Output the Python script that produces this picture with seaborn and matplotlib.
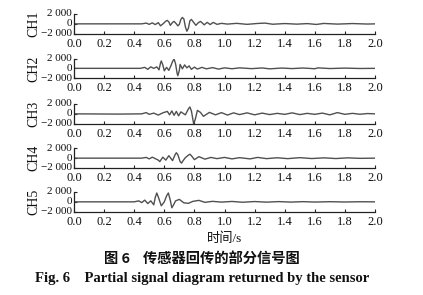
import matplotlib
matplotlib.use("Agg")
import matplotlib.pyplot as plt
import seaborn as sns
import pandas as pd

# ---- data ----
channels = ["CH1", "CH2", "CH3", "CH4", "CH5"]

t1 = [0.00, 0.30, 0.45, 0.48, 0.50, 0.52, 0.54, 0.56, 0.575, 0.595, 0.61, 0.62, 0.63, 0.64, 0.655, 0.665, 0.68, 0.69, 0.70, 0.71, 0.72, 0.73, 0.74, 0.75, 0.76, 0.77, 0.78, 0.79, 0.81, 0.825, 0.84, 0.855, 0.865, 0.885, 0.905, 0.925, 0.95, 0.98, 1.02, 1.08, 1.15, 1.22, 1.27, 1.32, 1.40, 1.48, 1.55, 1.61, 1.66, 1.75, 1.85, 1.95, 2.00]
v1 = [0, 0, 0, 150, -100, 200, -150, 250, -400, 100, 550, 700, 400, -300, 300, 500, 0, -400, -100, 900, 1300, 1000, -600, -1500, -900, 600, 900, 500, -300, 200, 500, 100, -200, 300, -150, 300, -100, 100, -50, 100, -100, 80, 150, -80, 60, -60, 50, -120, 80, -50, 60, -40, 0]

t2 = [0.00, 0.30, 0.44, 0.47, 0.49, 0.51, 0.53, 0.55, 0.565, 0.575, 0.58, 0.59, 0.60, 0.615, 0.63, 0.645, 0.655, 0.665, 0.675, 0.685, 0.69, 0.70, 0.705, 0.72, 0.735, 0.75, 0.765, 0.78, 0.80, 0.82, 0.85, 0.88, 0.92, 0.96, 1.00, 1.05, 1.10, 1.18, 1.25, 1.30, 1.38, 1.45, 1.52, 1.60, 1.62, 1.70, 1.80, 1.90, 2.00]
v2 = [0, 0, 0, 200, -200, 300, 0, 300, -300, 1100, 1500, 700, -500, 200, -400, 600, 1400, 1900, 900, -1000, -1500, -400, 800, -100, 700, 100, 500, -200, 250, -150, 200, -100, 150, -150, 100, -80, 100, -60, 80, -100, 60, -50, 70, -80, 100, -40, 50, -30, 0]

t3 = [0.00, 0.30, 0.45, 0.48, 0.50, 0.53, 0.56, 0.59, 0.62, 0.635, 0.65, 0.665, 0.68, 0.695, 0.71, 0.74, 0.76, 0.77, 0.78, 0.795, 0.805, 0.82, 0.84, 0.86, 0.90, 0.94, 0.98, 1.02, 1.06, 1.10, 1.15, 1.20, 1.25, 1.30, 1.35, 1.40, 1.45, 1.50, 1.55, 1.60, 1.65, 1.70, 1.75, 1.80, 1.85, 1.90, 1.95, 2.00]
v3 = [0, -50, 0, 250, -100, 150, -250, 200, 500, -200, 600, -300, 500, -400, 400, -200, 1000, 1400, 600, -2000, -1200, 700, 300, -500, 300, -200, 250, -250, 200, -150, 200, -200, 150, -150, 100, -100, 200, -150, 100, -100, 150, -200, 250, -100, 100, -80, 60, 0]

t4 = [0.00, 0.30, 0.45, 0.48, 0.50, 0.52, 0.54, 0.56, 0.57, 0.59, 0.61, 0.63, 0.655, 0.67, 0.68, 0.69, 0.705, 0.715, 0.725, 0.74, 0.76, 0.77, 0.78, 0.80, 0.83, 0.87, 0.91, 0.95, 1.00, 1.05, 1.10, 1.17, 1.22, 1.28, 1.35, 1.42, 1.50, 1.58, 1.66, 1.74, 1.82, 1.90, 2.00]
v4 = [0, 0, 0, 150, -150, 200, -100, -400, -700, 200, -400, 500, -500, 600, 1100, 700, -700, -1000, -500, 100, 600, 800, 500, -300, 300, -200, 150, -100, 150, -150, 100, -150, 150, -100, 80, -100, 100, -80, 60, -80, 60, -40, 0]

t5 = [0.00, 0.30, 0.40, 0.43, 0.45, 0.47, 0.49, 0.51, 0.53, 0.54, 0.55, 0.56, 0.58, 0.60, 0.615, 0.627, 0.64, 0.65, 0.66, 0.675, 0.70, 0.73, 0.76, 0.79, 0.83, 0.87, 0.92, 0.98, 1.05, 1.12, 1.20, 1.28, 1.36, 1.44, 1.52, 1.60, 1.70, 1.80, 1.90, 2.00]
v5 = [0, 0, 0, 200, -150, 350, -350, 200, -600, 900, 1800, 1000, -800, 0, 1200, 1800, 300, -1200, -700, 200, 500, -200, -300, 100, 300, -100, 100, -50, 80, -80, 60, -60, 50, -50, 40, -40, 30, -30, 20, 0]

x_ticks = [0.0, 0.2, 0.4, 0.6, 0.8, 1.0, 1.2, 1.4, 1.6, 1.8, 2.0]
x_tick_labels = ["0.0", "0.2", "0.4", "0.6", "0.8", "1.0", "1.2", "1.4", "1.6", "1.8", "2.0"]
y_ticks = [-2000, 0, 2000]
y_tick_labels = ["\u22122 000", "0", "2 000"]

xlabel = "时间/s"
caption_cn = "图 6    传感器回传的部分信号图"
caption_en = "Fig. 6    Partial signal diagram returned by the sensor"

series = [(t1, v1), (t2, v2), (t3, v3), (t4, v4), (t5, v5)]

# ---- style ----
sns.set_style("ticks")
plt.rcParams["font.family"] = ["Liberation Serif", "Noto Sans CJK SC", "DejaVu Sans"]
plt.rcParams["axes.unicode_minus"] = True

W, H = 423, 295
fig = plt.figure(figsize=(W / 100, H / 100), dpi=100)

left_px, right_px = 74, 375
tops_px = [14, 58.5, 104, 148.3, 192]
h_px = 19.7

line_color = "#505050"
tick_fs = 8.5

for i, (name, (tt, vv)) in enumerate(zip(channels, series)):
    top = tops_px[i]
    ax = fig.add_axes([left_px / W, 1 - (top + h_px) / H, (right_px - left_px) / W, h_px / H])
    df = pd.DataFrame({"t": tt, "v": vv})
    sns.lineplot(data=df, x="t", y="v", ax=ax, color=line_color, linewidth=1.0, sort=True,
                 estimator=None)
    ax.set_xlim(0, 2.0)
    ax.set_ylim(-2000, 2000)
    ax.set_xticks(x_ticks)
    ax.set_xticklabels(x_tick_labels, fontsize=tick_fs + 0.5)
    ax.set_yticks(y_ticks)
    ax.set_yticklabels(y_tick_labels, fontsize=8)
    ax.tick_params(axis="both", direction="in", length=2.5, width=0.8, color="#222222",
                   labelcolor="#111111")
    ax.tick_params(axis="y", pad=1.5)
    ax.tick_params(axis="x", pad=3.0)
    for yl in ax.get_yticklabels():
        yl.set_verticalalignment("center")
    ax.set_xlabel("")
    ax.set_ylabel(name, fontsize=10, color="#111111", labelpad=0.5)
    for s in ["top", "right"]:
        ax.spines[s].set_visible(False)
    for s in ["left", "bottom"]:
        ax.spines[s].set_linewidth(0.9)
        ax.spines[s].set_color("#222222")
    if i == len(channels) - 1:
        ax.set_xlabel(xlabel, fontsize=9.5, color="#111111", labelpad=3,
                      family=["Liberation Serif", "Noto Sans CJK SC"])

fig.text(202 / W, 1 - 259 / H, caption_cn, ha="center", va="center", fontsize=10.3,
         fontweight="bold", family=["Noto Sans CJK SC", "DejaVu Sans"], color="#111111")
fig.text(202 / W, 1 - 278.5 / H, caption_en, ha="center", va="center", fontsize=10.5,
         fontweight="bold", family=["Liberation Serif"], color="#111111")

fig.savefig("out.png", dpi=100, facecolor="white")
